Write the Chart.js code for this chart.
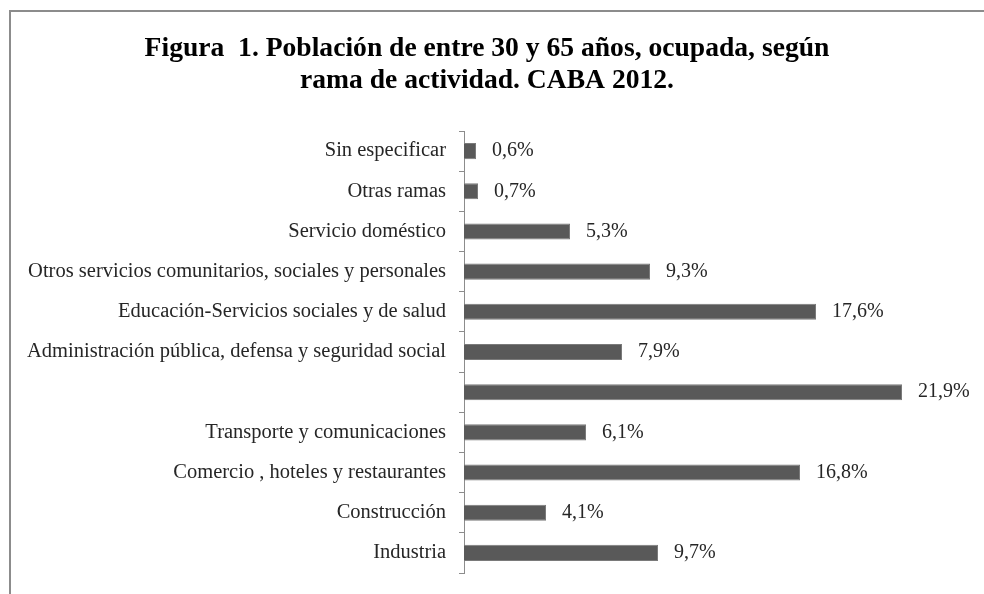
<!DOCTYPE html>
<html>
<head>
<meta charset="utf-8">
<script src="https://cdn.jsdelivr.net/npm/chart.js@4.4.1/dist/chart.umd.min.js"></script>
<style>
  html, body { margin: 0; padding: 0; background: #fff; }
  #wrap { position: relative; width: 984px; height: 594px; overflow: hidden; }
  #frame { position: absolute; left: 9px; top: 10px; width: 1000px; height: 600px; border: 2px solid #8c8c8c; box-sizing: border-box; }
  canvas { position: absolute; left: 0; top: 0; }
</style>
</head>
<body>
<div id="wrap">
  <div id="frame"></div>
  <canvas id="chart" width="984" height="594"></canvas>
</div>
<script>
const categories = [
  'Sin especificar',
  'Otras ramas',
  'Servicio doméstico',
  'Otros servicios comunitarios, sociales y personales',
  'Educación-Servicios sociales y de salud',
  'Administración pública, defensa y seguridad social',
  '',
  'Transporte y comunicaciones',
  'Comercio , hoteles y restaurantes',
  'Construcción',
  'Industria'
];
const values = [0.6, 0.7, 5.3, 9.3, 17.6, 7.9, 21.9, 6.1, 16.8, 4.1, 9.7];
const titleLines = [
  'Figura  1. Población de entre 30 y 65 años, ocupada, según',
  'rama de actividad. CABA 2012.'
];

const serif = "'Liberation Serif', 'DejaVu Serif', serif";

// value labels at the end of each bar
const barLabels = {
  id: 'barLabels',
  afterDatasetsDraw(chart) {
    const ctx = chart.ctx;
    const meta = chart.getDatasetMeta(0);
    ctx.save();
    ctx.font = '20px ' + serif;
    ctx.fillStyle = '#262626';
    ctx.textBaseline = 'middle';
    ctx.textAlign = 'left';
    meta.data.forEach((bar, i) => {
      ctx.fillText(values[i].toFixed(1).replace('.', ',') + '%', bar.x + 16, bar.y);
    });
    ctx.restore();
  }
};

new Chart(document.getElementById('chart').getContext('2d'), {
  type: 'bar',
  data: {
    labels: categories,
    datasets: [{
      data: values,
      backgroundColor: '#595959',
      borderColor: '#7a7a7a',
      borderWidth: 1,
      barPercentage: 0.4,
      categoryPercentage: 1
    }]
  },
  options: {
    indexAxis: 'y',
    responsive: false,
    animation: false,
    layout: { padding: { left: 10, right: 20, top: 0, bottom: 21 } },
    scales: {
      x: { display: false, min: 0, max: 25 },
      y: {
        afterFit(scale) {
          scale.width = 454;
          scale.paddingTop = 0;
          scale.paddingBottom = 0;
        },
        grid: { drawOnChartArea: false, drawTicks: true, tickLength: 5, color: '#8c8c8c', lineWidth: 1 },
        border: { display: true, color: '#8c8c8c', width: 1 },
        ticks: { color: '#262626', padding: 13, font: { family: serif, size: 20.5 } }
      }
    },
    plugins: {
      legend: { display: false },
      tooltip: { enabled: false },
      title: {
        display: true,
        text: titleLines,
        color: '#000',
        padding: { top: 33, bottom: 34 },
        font: { family: serif, size: 27.6, weight: 'bold', lineHeight: '32px' }
      }
    }
  },
  plugins: [barLabels]
});
</script>
</body>
</html>
